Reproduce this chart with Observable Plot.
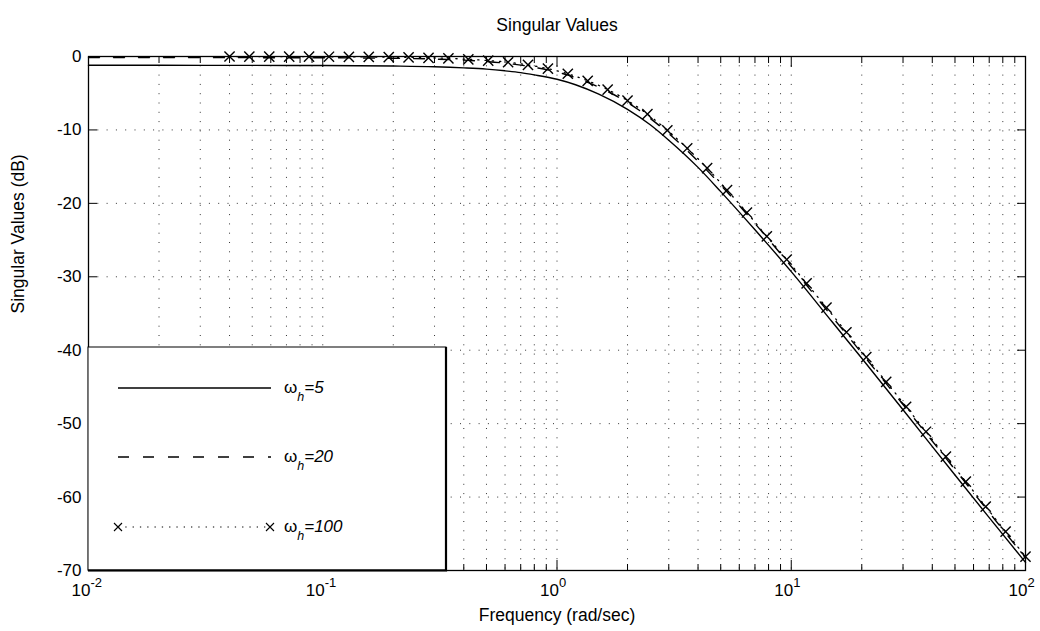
<!DOCTYPE html>
<html><head><meta charset="utf-8">
<script src="https://cdn.jsdelivr.net/npm/d3@7"></script>
<script src="https://cdn.jsdelivr.net/npm/@observablehq/plot@0.6"></script>
<style>
html,body{margin:0;padding:0;background:#fff;}
#chart{position:relative;width:1040px;height:631px;}
svg{font-family:"Liberation Sans",Arial,Helvetica,sans-serif;}
</style></head><body><div id="chart"></div>
<script>
const title = "Singular Values";
const xLabel = "Frequency (rad/sec)";
const yLabel = "Singular Values (dB)";
const seriesNames = ["5", "20", "100"];

// frequencies (rad/sec) for the two continuous curves
const curveFreq = [0.01,0.02,0.05,0.1,0.2,0.3,0.4,0.5,0.6,0.7,0.8,1,1.2,1.5,2,2.5,3,4,5,7,10,15,20,30,50,70,100];
// omega_h = 5 (solid)
const svWh5 = [-1.2,-1.2,-1.21,-1.23,-1.3,-1.4,-1.55,-1.72,-1.95,-2.2,-2.5,-3.1,-3.85,-5.1,-7.2,-9.3,-11.4,-15.1,-18.4,-23.6,-29.3,-36.2,-41.1,-48.1,-57.0,-62.8,-68.9];
// omega_h = 20 (dashed)
const svWh20 = [-0.15,-0.15,-0.16,-0.17,-0.24,-0.35,-0.5,-0.69,-0.91,-1.18,-1.47,-2.12,-2.87,-4.15,-6.26,-8.43,-10.5,-14.27,-17.5,-22.75,-28.6,-35.5,-40.4,-47.4,-56.25,-62.1,-68.3];
// omega_h = 100 (dotted with x markers)
const markerFreq = [0.04,0.0486,0.0591,0.0719,0.0874,0.1063,0.1293,0.1572,0.1913,0.2325,0.2828,0.3439,0.4182,0.5085,0.6184,0.7518,0.9146,1.112,1.352,1.645,2.0,2.432,2.958,3.597,4.374,5.319,6.468,7.866,9.564,11.63,14.14,17.2,20.91,25.43,30.93,37.61,45.73,55.62,67.63,82.24,100];
const svWh100 = [0,-0.01,-0.01,-0.02,-0.02,-0.03,-0.05,-0.06,-0.09,-0.12,-0.18,-0.26,-0.38,-0.55,-0.78,-1.15,-1.66,-2.35,-3.31,-4.5,-6.0,-7.85,-10.05,-12.5,-15.2,-18.2,-21.25,-24.5,-27.65,-30.9,-34.2,-37.55,-40.95,-44.3,-47.7,-51.1,-54.5,-57.9,-61.3,-64.7,-68.1];

const yTicks = [-70,-60,-50,-40,-30,-20,-10,0];
const yTickLabels = ["-70","-60","-50","-40","-30","-20","-10","0"];
const xMajorTicks = [0.01,0.1,1,10,100];
const xTickExponents = ["-2","-1","0","1","2"];
const xMinorTicks = [0.02,0.03,0.04,0.05,0.06,0.07,0.08,0.09,0.2,0.3,0.4,0.5,0.6,0.7,0.8,0.9,2,3,4,5,6,7,8,9,20,30,40,50,60,70,80,90];

const fine = curveFreq.map((f, i) => ({f, v5: svWh5[i], v20: svWh20[i]}));
const marks = markerFreq.map((f, i) => ({f, v: svWh100[i]}));
const gridXs = [...xMinorTicks, 0.1, 1, 10];
const gridYs = yTicks.filter(d => d > -70 && d < 0);
const FONT = '"Liberation Sans",Arial,Helvetica,sans-serif';

const chart = Plot.plot({
  width: 1040, height: 631,
  marginTop: 56, marginBottom: 61, marginLeft: 88, marginRight: 15,
  style: {fontFamily: FONT, fontSize: "17px", color: "#000", background: "#fff"},
  x: {type: "log", domain: [0.01, 100]},
  y: {domain: [-70, 0]},
  marks: [
    Plot.gridX(gridXs, {stroke: "#000", strokeOpacity: 0.8, strokeDasharray: "1,8.3"}),
    Plot.gridY(gridYs, {stroke: "#000", strokeOpacity: 0.8, strokeDasharray: "1,8.3"}),
    Plot.frame({stroke: "#000", strokeWidth: 1.3}),
    Plot.axisY(yTicks, {anchor: "left", tickSize: -9, tickPadding: 16, tickFormat: (d) => yTickLabels[yTicks.indexOf(d)], label: null, fontSize: 17}),
    Plot.axisY(yTicks, {anchor: "right", tickSize: -9, tickFormat: () => "", label: null}),
    Plot.axisX(xMajorTicks, {anchor: "bottom", tickSize: -10, tickFormat: () => "", label: null}),
    Plot.axisX(xMinorTicks, {anchor: "bottom", tickSize: -6, tickFormat: () => "", label: null}),
    Plot.axisX(xMajorTicks, {anchor: "top", tickSize: -10, tickFormat: () => "", label: null}),
    Plot.axisX(xMinorTicks, {anchor: "top", tickSize: -6, tickFormat: () => "", label: null}),
    Plot.line(fine, {x: "f", y: "v5", stroke: "#000", strokeWidth: 1.4, curve: "monotone-x"}),
    Plot.line(fine, {x: "f", y: "v20", stroke: "#000", strokeWidth: 1.4, strokeDasharray: "11,14", curve: "monotone-x"}),
    Plot.line(marks, {x: "f", y: "v", stroke: "#000", strokeWidth: 1.3, strokeDasharray: "1.3,6", curve: "monotone-x"}),
    Plot.dot(marks, {x: "f", y: "v", symbol: "times", r: 4.7, stroke: "#000", strokeWidth: 1.4}),
    Plot.text([title], {text: d => d, frameAnchor: "top", dy: -38, fontSize: 17.5}),
    Plot.text([xLabel], {text: d => d, frameAnchor: "bottom", dy: 50, fontSize: 17.5}),
    Plot.text([yLabel], {text: d => d, frameAnchor: "left", dx: -70, rotate: -90, fontSize: 17.5}),
    Plot.text(xMajorTicks, {x: d => d, text: () => "10", frameAnchor: "bottom", textAnchor: "end", dx: 2, dy: 25, fontSize: 17}),
    Plot.text(xMajorTicks, {x: d => d, text: (d, i) => xTickExponents[i], frameAnchor: "bottom", textAnchor: "start", dx: 2, dy: 16, fontSize: 13})
  ]
});
document.getElementById("chart").appendChild(chart);

// legend box
const svg = d3.select(chart);
const lg = svg.append("g").attr("font-family", FONT).attr("text-anchor", "start");
lg.append("rect").attr("x", 88).attr("y", 347).attr("width", 358).attr("height", 223)
  .attr("fill", "#fff").attr("stroke", "#000").attr("stroke-width", 1);
lg.append("path").attr("d", "M446,347V570.5H88").attr("fill", "none").attr("stroke", "#000").attr("stroke-width", 2.2);
const rows = [
  {y: 388, dash: null, markers: false},
  {y: 457, dash: "11,14", markers: false},
  {y: 527, dash: "1.3,6", markers: true}
];
rows.forEach((r, i) => {
  const ln = lg.append("line").attr("x1", 118).attr("x2", 271).attr("y1", r.y).attr("y2", r.y)
    .attr("stroke", "#000").attr("stroke-width", r.markers ? 1.1 : 1.3);
  if (r.dash) ln.attr("stroke-dasharray", r.dash);
  if (r.markers) {
    [118, 270].forEach(cx => {
      lg.append("path").attr("d", `M${cx-4},${r.y-4}L${cx+4},${r.y+4}M${cx-4},${r.y+4}L${cx+4},${r.y-4}`)
        .attr("stroke", "#000").attr("stroke-width", 1.1);
    });
  }
  const t = lg.append("text").attr("x", 284).attr("y", r.y + 5).attr("font-size", 17)
    .attr("fill", "#000").attr("text-anchor", "start");
  t.append("tspan").text("ω");
  t.append("tspan").attr("font-style", "italic").attr("font-size", 12.5).attr("dy", 8).text("h");
  t.append("tspan").attr("font-style", "italic").attr("dy", -8).text("=" + seriesNames[i]);
});
</script></body></html>
